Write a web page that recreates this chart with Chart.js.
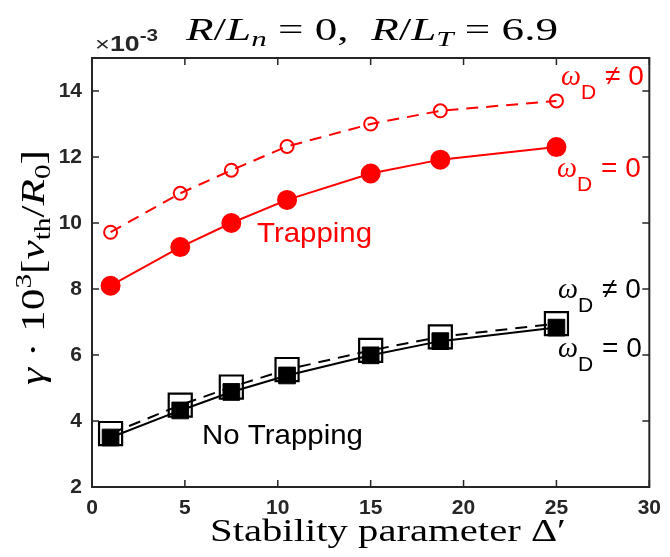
<!DOCTYPE html>
<html>
<head>
<meta charset="utf-8">
<script src="https://cdn.jsdelivr.net/npm/chart.js@4/dist/chart.umd.min.js"></script>
<style>
  html, body { margin: 0; padding: 0; background: #fff; }
</style>
</head>
<body>
<canvas id="graficoGamma" width="670" height="557"></canvas>
<script>
// stability parameter values (x)
var deltaLinha = [1, 4.75, 7.5, 10.5, 15, 18.75, 25];
// growth rates, in units of 1e-3
var trapOmegaD = [9.72, 10.9, 11.6, 12.32, 13.0, 13.4, 13.7];
var trapSemOmegaD = [8.1, 9.27, 10.0, 10.7, 11.5, 11.92, 12.3];
var noTrapOmegaD = [3.62, 4.48, 5.03, 5.56, 6.14, 6.55, 6.95];
var noTrapSemOmegaD = [3.5, 4.32, 4.88, 5.38, 5.99, 6.42, 6.83];
// axis ticks
var ticksX = [0, 5, 10, 15, 20, 25, 30];
var ticksY = [2, 4, 6, 8, 10, 12, 14];

var VERMELHO = '#ff0000';
var PRETO = '#000000';
var EIXO = '#262626';
var SERIF = '"Liberation Serif", "Times New Roman", serif';
var SANS = '"Liberation Sans", Arial, Helvetica, sans-serif';

function pontos(ys) {
  return deltaLinha.map(function (x, i) { return { x: x, y: ys[i] }; });
}

// draws a list of [text, font, dy] pieces, stretched to a given length
function textoRico(ctx, partes, x, y, largura, cor, rot) {
  ctx.save();
  ctx.fillStyle = cor;
  ctx.textBaseline = 'alphabetic';
  ctx.textAlign = 'left';
  ctx.translate(x, y);
  if (rot) ctx.rotate(rot);
  var total = 0;
  partes.forEach(function (p) { ctx.font = p[1]; total += ctx.measureText(p[0]).width; });
  if (largura) ctx.scale(largura / total, 1);
  var cx = 0;
  partes.forEach(function (p) {
    ctx.font = p[1];
    ctx.fillText(p[0], cx, p[2] || 0);
    cx += ctx.measureText(p[0]).width;
  });
  ctx.restore();
}

// omega_D annotation on the right side
function rotuloOmega(ctx, x, base, sinal, cor) {
  textoRico(ctx, [['\u03C9', 'italic 30px ' + SERIF]], x, base, 20, cor);
  textoRico(ctx, [['D', '21px ' + SANS]], x + 20, base + 14, 0, cor);
  textoRico(ctx, [[sinal + ' 0', '28px ' + SANS]], x + 44, base, 0, cor);
}

// box with inward ticks on all four sides
var moldura = {
  id: 'moldura',
  afterDatasetsDraw: function (chart) {
    var ctx = chart.ctx, a = chart.chartArea;
    var sx = chart.scales.x, sy = chart.scales.y;
    ctx.save();
    ctx.strokeStyle = EIXO;
    ctx.lineWidth = 1.5;
    ctx.beginPath();
    ticksX.forEach(function (v) {
      var px = sx.getPixelForValue(v);
      ctx.moveTo(px, a.bottom); ctx.lineTo(px, a.bottom - 7);
      ctx.moveTo(px, a.top); ctx.lineTo(px, a.top + 7);
    });
    ticksY.forEach(function (v) {
      var py = sy.getPixelForValue(v);
      ctx.moveTo(a.left, py); ctx.lineTo(a.left + 7, py);
      ctx.moveTo(a.right, py); ctx.lineTo(a.right - 7, py);
    });
    ctx.stroke();
    ctx.lineWidth = 2;
    ctx.strokeRect(a.left, a.top, a.right - a.left, a.bottom - a.top);
    ctx.restore();
  }
};

// title, axis titles and curve labels
var textos = {
  id: 'textos',
  afterDraw: function (chart) {
    var ctx = chart.ctx;
    var it = 'italic 32px ' + SERIF, rm = '32px ' + SERIF, sub = 'italic 22px ' + SERIF;
    textoRico(ctx, [['R', it], ['/', rm], ['L', it], ['n', sub, 6], [' = ', rm], ['0,', rm], ['  ', rm],
      ['R', it], ['/', rm], ['L', it], ['T', sub, 6], [' = ', rm], ['6.9', rm]], 186, 40, 372, PRETO);

    textoRico(ctx, [['\u00D7', '21px ' + SANS], ['10', 'bold 22px ' + SANS], ['-3', 'bold 17px ' + SANS, -10]], 95, 51, 63, EIXO);

    textoRico(ctx, [['Stability parameter \u0394\u2032', '32px ' + SERIF]], 210, 541, 356, PRETO);

    var yf = '34px ' + SERIF, yi = 'italic 34px ' + SERIF, ys = '23px ' + SERIF;
    textoRico(ctx, [['\u03B3', yi], [' \u00B7 10', yf], ['3', ys, -13], ['[', yf], ['v', yi], ['th', ys, 6],
      ['/', yf], ['R', yi], ['0', ys, 6], [']', yf]], 44, 385, 235, PRETO, -Math.PI / 2);

    textoRico(ctx, [['Trapping', '28px ' + SANS]], 257, 242, 115, VERMELHO);
    textoRico(ctx, [['No Trapping', '28px ' + SANS]], 202, 444, 161, PRETO);

    rotuloOmega(ctx, 561, 85, '\u2260', VERMELHO);
    rotuloOmega(ctx, 557, 177, '=', VERMELHO);
    rotuloOmega(ctx, 558, 298, '\u2260', PRETO);
    rotuloOmega(ctx, 558, 357, '=', PRETO);
  }
};

var ctx = document.getElementById('graficoGamma').getContext('2d');
var chart = new Chart(ctx, {
  type: 'scatter',
  data: {
    datasets: [
      {
        label: 'Trapping, omega_D = 0',
        data: pontos(trapSemOmegaD),
        showLine: true,
        borderColor: VERMELHO,
        borderWidth: 2,
        pointStyle: 'circle',
        pointRadius: 9,
        pointBorderWidth: 2,
        pointBackgroundColor: VERMELHO,
        pointBorderColor: VERMELHO
      },
      {
        label: 'Trapping, omega_D != 0',
        data: pontos(trapOmegaD),
        showLine: true,
        borderColor: VERMELHO,
        borderWidth: 2,
        borderDash: [12, 8],
        pointStyle: 'circle',
        pointRadius: 6.5,
        pointBorderWidth: 2,
        pointBackgroundColor: 'rgba(0,0,0,0)',
        pointBorderColor: VERMELHO
      },
      {
        label: 'No trapping, omega_D = 0',
        data: pontos(noTrapSemOmegaD),
        showLine: true,
        borderColor: PRETO,
        borderWidth: 2,
        pointStyle: 'rect',
        pointRadius: 11.8,
        pointBorderWidth: 1,
        pointBackgroundColor: PRETO,
        pointBorderColor: PRETO
      },
      {
        label: 'No trapping, omega_D != 0',
        data: pontos(noTrapOmegaD),
        showLine: true,
        borderColor: PRETO,
        borderWidth: 2,
        borderDash: [12, 8],
        pointStyle: 'rect',
        pointRadius: 16.3,
        pointBorderWidth: 2.2,
        pointBackgroundColor: 'rgba(0,0,0,0)',
        pointBorderColor: PRETO
      }
    ]
  },
  options: {
    responsive: false,
    animation: false,
    events: [],
    layout: { padding: { top: 58, right: 17, left: 0, bottom: 0 } },
    plugins: { legend: { display: false }, tooltip: { enabled: false } },
    scales: {
      x: {
        type: 'linear',
        min: 0,
        max: 30,
        grid: { display: false, drawTicks: false },
        border: { display: false },
        afterBuildTicks: function (s) { s.ticks = ticksX.map(function (v) { return { value: v }; }); },
        afterFit: function (s) { s.height = 70; },
        ticks: {
          color: EIXO,
          padding: 9,
          maxRotation: 0,
          font: { family: SANS, size: 21, weight: 'bold' }
        }
      },
      y: {
        type: 'linear',
        min: 2,
        max: 15,
        grid: { display: false, drawTicks: false },
        border: { display: false },
        afterBuildTicks: function (s) { s.ticks = ticksY.map(function (v) { return { value: v }; }); },
        afterFit: function (s) { s.width = 92; },
        ticks: {
          color: EIXO,
          padding: 10,
          font: { family: SANS, size: 21, weight: 'bold' }
        }
      }
    }
  },
  plugins: [moldura, textos]
});
</script>
</body>
</html>
